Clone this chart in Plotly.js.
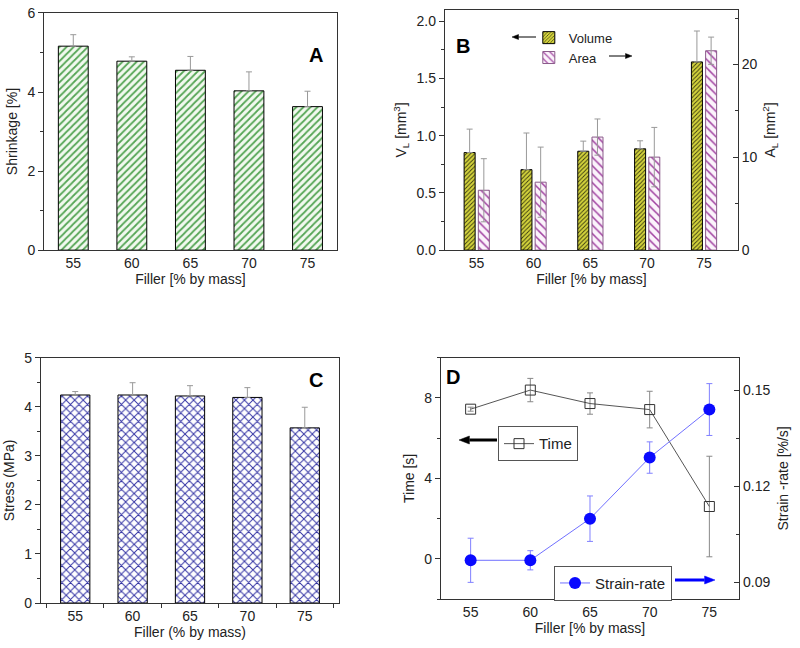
<!DOCTYPE html>
<html>
<head>
<meta charset="utf-8">
<script src="https://cdn.plot.ly/plotly-3.0.1.min.js"></script>
<style>html,body{margin:0;padding:0;background:#fff;}#chart{width:800px;height:648px;}</style>
</head>
<body>
<div id="chart"></div>
<script>
// ---- data ----
const filler = [55, 60, 65, 70, 75];
const fillerTickLabels = ['55', '60', '65', '70', '75'];
const shrinkage = [5.16, 4.78, 4.55, 4.03, 3.63];
const shrinkageErr = [0.29, 0.11, 0.35, 0.48, 0.39];
const volume = [0.852, 0.703, 0.864, 0.885, 1.644];
const volumeErr = [0.205, 0.32, 0.088, 0.07, 0.27];
const area = [6.45, 7.32, 12.18, 10.02, 21.48];
const areaErr = [3.4, 3.78, 1.95, 3.2, 1.47];
const stress = [4.24, 4.24, 4.22, 4.19, 3.57];
const stressErr = [0.07, 0.25, 0.21, 0.20, 0.42];
const time = [7.44, 8.39, 7.72, 7.42, 2.6];
const timeErr = [0.1, 0.58, 0.53, 0.91, 2.5];
const strainRate = [0.0968, 0.0968, 0.1098, 0.1289, 0.1439];
const strainRateErr = [0.0069, 0.003, 0.0071, 0.0049, 0.0081];

const FONT = 'Liberation Sans, Arial, sans-serif';
const errUp = (arr, color) => ({type: 'data', array: arr, arrayminus: arr.map(() => 0), symmetric: false, color: color, thickness: 1, width: 3});
const errSym = (arr, color) => ({type: 'data', array: arr, symmetric: true, color: color, thickness: 1, width: 3});

const traces = [
  {type: 'bar', x: filler, y: shrinkage, xaxis: 'x', yaxis: 'y', width: 2.55, showlegend: false,
   marker: {color: '#ffffff', line: {color: '#000', width: 1}, pattern: {shape: '/', fgcolor: '#55a555', bgcolor: '#f2f9ef', size: 5, solidity: 0.35}},
   error_y: errUp(shrinkageErr, '#999')},
  {type: 'bar', name: 'Volume', x: filler, y: volume, xaxis: 'x2', yaxis: 'y2', width: 0.97, offset: -1.1, legend: 'legend3',
   marker: {color: '#c8c83a', line: {color: '#000', width: 1}, pattern: {shape: '/', fgcolor: '#3a3a10', bgcolor: '#d4d43c', size: 3, solidity: 0.3}},
   error_y: errUp(volumeErr, '#999')},
  {type: 'bar', name: 'Area', x: filler, y: area, xaxis: 'x2', yaxis: 'y3', width: 0.97, offset: 0.15, legend: 'legend3',
   marker: {color: '#ffffff', line: {color: '#8a5a8a', width: 1}, pattern: {shape: '\\', fgcolor: '#a040a0', bgcolor: '#fbf3fb', size: 6, solidity: 0.25}},
   error_y: errSym(areaErr, '#999')},
  {type: 'bar', x: filler, y: stress, xaxis: 'x3', yaxis: 'y4', width: 2.55, showlegend: false,
   marker: {color: '#ffffff', line: {color: '#000', width: 1}, pattern: {shape: 'x', fgcolor: '#3535a5', bgcolor: '#ffffff', size: 6, solidity: 0.3}},
   error_y: errUp(stressErr, '#999')},
  {type: 'scatter', mode: 'lines+markers', name: 'Time', x: filler, y: time, xaxis: 'x4', yaxis: 'y5', legend: 'legend',
   line: {color: '#555', width: 1}, marker: {symbol: 'square-open', size: 10, color: '#333', line: {width: 1}},
   error_y: errSym(timeErr, '#888')},
  {type: 'scatter', mode: 'lines+markers', name: 'Strain-rate', x: filler, y: strainRate, xaxis: 'x4', yaxis: 'y6', legend: 'legend2',
   line: {color: '#7070ff', width: 1}, marker: {symbol: 'circle', size: 12, color: '#0a0aff'},
   error_y: errSym(strainRateErr, '#8080ff')}
];

const tickfont = {family: FONT, size: 14, color: '#222'};
const titlefont = {family: FONT, size: 14, color: '#222'};
const baseX = (domain, title, ticksOn) => ({
  domain: domain, range: [52.5, 77.5], tickmode: 'array', tickvals: filler, ticktext: fillerTickLabels,
  ticks: '', showline: true, linecolor: '#333', linewidth: 1, mirror: true, showgrid: false, zeroline: false,
  tickfont: tickfont, title: {text: title, font: titlefont, standoff: 4},
  minor: ticksOn ? {ticks: 'outside', tick0: 52.5, dtick: 5, ticklen: 4, tickcolor: '#333', showgrid: false} : undefined
});
const baseY = (extra) => Object.assign({
  showline: true, linecolor: '#333', linewidth: 1, showgrid: false, zeroline: false,
  ticks: 'outside', ticklen: 5, tickcolor: '#333', tickfont: tickfont
}, extra);

// decorative arrows (paper pixel helpers)
const px = v => v / 800, py = v => 1 - v / 648;
function arrow(x0, x1, y, head, lw, color) {
  // x0 = tail, x1 = tip
  const dir = x1 > x0 ? 1 : -1;
  const hb = x1 - dir * head * 1.3;
  return [
    {type: 'line', xref: 'paper', yref: 'paper', x0: px(x0), x1: px(hb), y0: py(y), y1: py(y), line: {color: color, width: lw}},
    {type: 'path', xref: 'paper', yref: 'paper',
     path: `M ${px(x1)} ${py(y)} L ${px(hb)} ${py(y - head / 2)} L ${px(hb)} ${py(y + head / 2)} Z`,
     fillcolor: color, line: {color: color, width: 0.5}}
  ];
}

const layout = {
  width: 800, height: 648,
  margin: {l: 0, r: 0, t: 0, b: 0},
  paper_bgcolor: '#fff', plot_bgcolor: '#fff',
  font: {family: FONT, color: '#222'},
  barmode: 'overlay',
  xaxis: baseX([0.055, 0.421], 'Filler [% by mass]', false),
  yaxis: baseY({domain: [0.614, 0.980], anchor: 'x', range: [0, 6], dtick: 2, mirror: true,
    title: {text: 'Shrinkage [%]', font: titlefont, standoff: 6},
    minor: {ticks: 'outside', dtick: 1, ticklen: 3, tickcolor: '#333', showgrid: false}}),
  yaxis7: {overlaying: 'y', side: 'right', anchor: 'x', range: [0, 6], dtick: 1, ticks: 'inside', ticklen: 4,
    tickcolor: '#333', showticklabels: false, showline: false, showgrid: false, zeroline: false},
  xaxis2: Object.assign(baseX([0.556, 0.9225], 'Filler [% by mass]', false), {anchor: 'y2', range: [52.2, 78.0]}),
  yaxis2: baseY({domain: [0.614, 0.985], anchor: 'x2', range: [0, 2.1], dtick: 0.5, tickformat: '.1f',
    title: {text: 'V<sub>L</sub> [mm<sup>3</sup>]', font: titlefont, standoff: 6},
    minor: {ticks: 'outside', dtick: 0.25, ticklen: 3, tickcolor: '#333', showgrid: false}}),
  yaxis3: baseY({overlaying: 'y2', side: 'right', anchor: 'x2', range: [0, 25.9], dtick: 10, ticks: 'inside',
    title: {text: 'A<sub>L</sub> [mm<sup>2</sup>]', font: titlefont, standoff: 8},
    minor: {ticks: 'inside', dtick: 5, ticklen: 3, tickcolor: '#333', showgrid: false}}),
  xaxis3: Object.assign(baseX([0.051, 0.424], 'Filler (% by mass)', true), {anchor: 'y4', range: [52.0, 78.0]}),
  yaxis4: baseY({domain: [0.0694, 0.448], anchor: 'x3', range: [0, 5], dtick: 1, mirror: true,
    title: {text: 'Stress (MPa)', font: titlefont, standoff: 6},
    minor: {ticks: 'outside', dtick: 0.5, ticklen: 3, tickcolor: '#333', showgrid: false}}),
  xaxis4: Object.assign(baseX([0.551, 0.924], 'Filler [% by mass]', false), {anchor: 'y5'}),
  yaxis5: baseY({domain: [0.0756, 0.448], anchor: 'x4', range: [-2, 10], tickvals: [0, 4, 8],
    title: {text: 'Time [s]', font: titlefont, standoff: 6},
    minor: {ticks: 'outside', tickvals: [-2, 2, 6, 10], ticklen: 3, tickcolor: '#333', showgrid: false}}),
  yaxis6: baseY({overlaying: 'y5', side: 'right', anchor: 'x4', range: [0.0847, 0.1601], tickvals: [0.09, 0.12, 0.15], ticks: 'inside',
    title: {text: 'Strain -rate [%/s]', font: titlefont, standoff: 8},
    minor: {ticks: 'inside', tickvals: [0.105, 0.135], ticklen: 3, tickcolor: '#333', showgrid: false}}),
  legend: {x: 0.6225, y: 0.342, xanchor: 'left', yanchor: 'top', bordercolor: '#555', borderwidth: 1, bgcolor: '#fff',
    font: {family: FONT, size: 15, color: '#222'}, itemwidth: 30, tracegroupgap: 0},
  legend2: {x: 0.6925, y: 0.127, xanchor: 'left', yanchor: 'top', bordercolor: '#555', borderwidth: 1, bgcolor: '#fff',
    font: {family: FONT, size: 15, color: '#222'}, itemwidth: 30},
  legend3: {x: 0.661, y: 0.965, xanchor: 'left', yanchor: 'top', borderwidth: 0, bgcolor: 'rgba(0,0,0,0)',
    font: {family: FONT, size: 13, color: '#222'}, itemwidth: 30, tracegroupgap: 0},
  annotations: [
    {text: '<b>A</b>', xref: 'paper', yref: 'paper', x: 316 / 800, y: 1 - 42 / 648, showarrow: false, font: {family: FONT, size: 20, color: '#000'}},
    {text: '<b>B</b>', xref: 'paper', yref: 'paper', x: 463 / 800, y: 1 - 33 / 648, showarrow: false, font: {family: FONT, size: 20, color: '#000'}},
    {text: '<b>C</b>', xref: 'paper', yref: 'paper', x: 316 / 800, y: 1 - 380 / 648, showarrow: false, font: {family: FONT, size: 20, color: '#000'}},
    {text: '<b>D</b>', xref: 'paper', yref: 'paper', x: 453 / 800, y: 1 - 377 / 648, showarrow: false, font: {family: FONT, size: 20, color: '#000'}}
  ],
  shapes: [].concat(
    arrow(536, 512, 37, 5, 1, '#000'),
    arrow(609, 632, 56, 5, 1, '#000'),
    arrow(497, 459, 440, 8, 3, '#000'),
    arrow(675, 715, 580, 8, 3, '#0000ff')
  )
};

Plotly.newPlot('chart', traces, layout, {displayModeBar: false, staticPlot: true});
</script>
</body>
</html>
